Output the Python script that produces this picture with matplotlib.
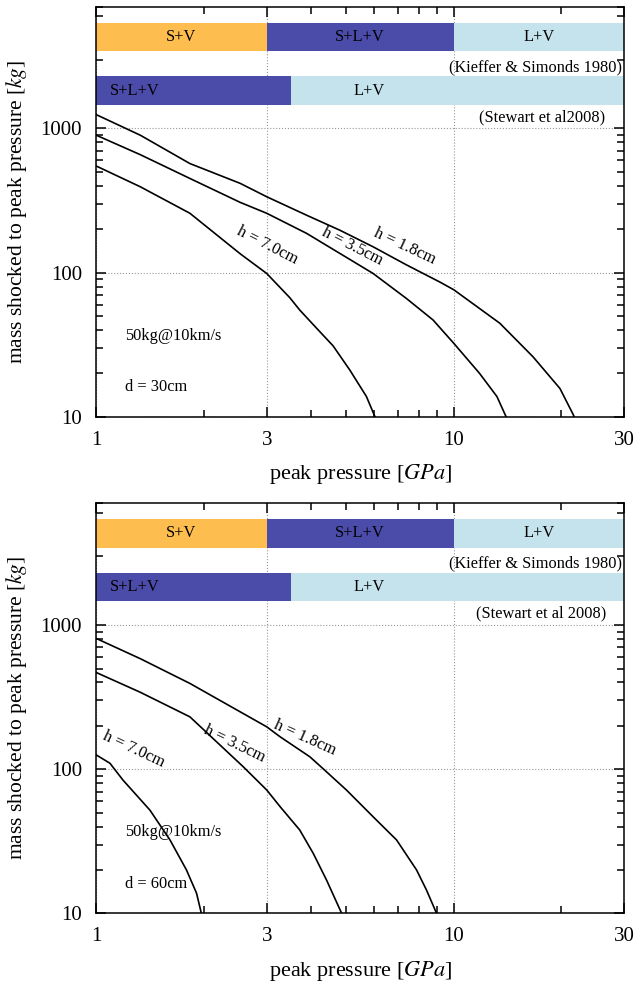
import numpy as np
import matplotlib
matplotlib.use("Agg")
import matplotlib.pyplot as plt
from matplotlib.ticker import LogLocator, NullFormatter

plt.rcParams['font.family'] = ['Liberation Serif', 'DejaVu Serif']
plt.rcParams['mathtext.fontset'] = 'stix'

# phase bands (pressure boundaries in GPa)
kieffer_edges = [1, 3, 10, 30]
kieffer_labels = ['S+V', 'S+L+V', 'L+V']
kieffer_colors = ['#FDBE4F', '#4B4BAA', '#C5E3EC']
stewart_edges = [1, 3.5, 30]
stewart_labels = ['S+L+V', 'L+V']
stewart_colors = ['#4B4BAA', '#C5E3EC']

# d = 30cm
p18_a = [1.0, 1.33, 1.83, 2.53, 3.0, 3.88, 4.8, 5.95, 7.38, 9.14, 10.0, 13.45, 16.66, 19.8, 21.5, 21.7]
m18_a = [1250, 898, 571, 416, 336, 250, 197, 151, 113, 86, 76, 44.5, 26, 15.7, 10.5, 10]
p35_a = [1.0, 1.33, 1.83, 2.53, 3.0, 3.88, 4.8, 5.95, 7.38, 8.75, 10.0, 11.8, 13.2, 14.0]
m35_a = [900, 658, 450, 307, 258, 187, 136, 98.6, 66, 46.9, 32.3, 20, 13.8, 10]
p70_a = [1.0, 1.33, 1.83, 2.53, 3.0, 3.48, 3.71, 4.14, 4.6, 5.12, 5.70, 6.02]
m70_a = [550, 394, 258, 135, 98.6, 67, 55, 41, 31, 21.1, 13.8, 10]

# d = 60cm
p18_b = [1.0, 1.33, 1.83, 3.0, 3.27, 3.96, 4.31, 5.01, 5.95, 6.92, 7.87, 8.39, 8.95]
m18_b = [810, 585, 394, 197, 168, 122, 101, 71.8, 46.8, 32.3, 20, 14.5, 10]
p35_b = [1.0, 1.33, 1.83, 2.58, 3.0, 3.27, 3.71, 4.05, 4.41, 4.86]
m35_b = [470, 342, 231, 104, 71.8, 55, 37.9, 26, 17, 10]
p70_b = [1.0, 1.094, 1.19, 1.415, 1.61, 1.79, 1.91, 1.97]
m70_b = [126, 110, 84, 52, 32.3, 20, 13.8, 10]

panels = [
    dict(curves=[(p18_a, m18_a), (p35_a, m35_a), (p70_a, m70_a)],
         hlabels=[(7.3, 153, -25), (5.22, 153, -27), (3.02, 153, -27)],
         d='d = 30cm', stewart='(Stewart et al2008)'),
    dict(curves=[(p18_b, m18_b), (p35_b, m35_b), (p70_b, m70_b)],
         hlabels=[(3.84, 166, -24), (2.44, 151, -26), (1.277, 138, -25)],
         d='d = 60cm', stewart='(Stewart et al 2008)'),
]
hnames = ['h = 1.8cm', 'h = 3.5cm', 'h = 7.0cm']
fs = 11.8

fig = plt.figure(figsize=(6.34, 9.86), dpi=100)
bottoms = [0.5774, 0.0737]

for pan, b in zip(panels, bottoms):
    ax = fig.add_axes([0.1514, b, 0.8336, 0.4158])
    ax.set_xscale('log')
    ax.set_yscale('log')
    ax.set_xlim(1, 30)
    ax.set_ylim(10, 7000)

    # bands
    for i, lab in enumerate(kieffer_labels):
        x0, x1 = kieffer_edges[i], kieffer_edges[i + 1]
        ax.fill_between([x0, x1], 3450, 5430, color=kieffer_colors[i], lw=0, zorder=2)
        ax.text(np.sqrt(x0 * x1), 4330, lab, ha='center', va='center', fontsize=fs, zorder=3)
    for i, lab in enumerate(stewart_labels):
        x0, x1 = stewart_edges[i], stewart_edges[i + 1]
        ax.fill_between([x0, x1], 1460, 2300, color=stewart_colors[i], lw=0, zorder=2)
    ax.text(1.28, 1832, stewart_labels[0], ha='center', va='center', fontsize=fs, zorder=3)
    ax.text(5.8, 1832, stewart_labels[1], ha='center', va='center', fontsize=fs, zorder=3)
    ax.text(29.5, 2673, '(Kieffer & Simonds 1980)', ha='right', va='center', fontsize=fs, zorder=3)
    ax.text(17.6, 1200, pan['stewart'], ha='center', va='center', fontsize=fs, zorder=3)

    for (p, m), (tx, ty, rot), name in zip(pan['curves'], pan['hlabels'], hnames):
        ax.plot(p, m, color='black', lw=1.2, zorder=4)
        ax.text(tx, ty, name, rotation=rot, ha='center', va='center', fontsize=fs,
                rotation_mode='anchor', zorder=5)

    ax.text(1.205, 36.4, '50kg@10km/s', ha='left', va='center', fontsize=fs)
    ax.text(1.205, 16.1, pan['d'], ha='left', va='center', fontsize=fs)

    ax.set_xticks([1, 3, 10, 30])
    ax.set_xticklabels(['1', '3', '10', '30'])
    ax.xaxis.set_minor_locator(LogLocator(base=10, subs=np.arange(2, 10)))
    ax.xaxis.set_minor_formatter(NullFormatter())
    ax.set_yticks([10, 100, 1000])
    ax.set_yticklabels(['10', '100', '1000'])
    ax.yaxis.set_minor_locator(LogLocator(base=10, subs=np.arange(2, 10)))
    ax.yaxis.set_minor_formatter(NullFormatter())
    ax.tick_params(which='both', direction='in', top=True, right=True, labelsize=15, width=1.1)
    ax.tick_params(which='major', length=7)
    ax.tick_params(which='minor', length=5)
    ax.tick_params(axis='x', which='major', pad=10)
    ax.tick_params(axis='y', which='major', pad=10)
    ax.grid(True, which='major', linestyle=':', color='#999999', lw=0.8, zorder=1)
    for s in ax.spines.values():
        s.set_linewidth(1.1)
    ax.set_xlabel('peak pressure [$GPa$]', fontsize=16, labelpad=9)
    ax.set_ylabel('mass shocked to peak pressure [$kg$]', fontsize=15.5, labelpad=8)

fig.savefig('out.png', dpi=100)
